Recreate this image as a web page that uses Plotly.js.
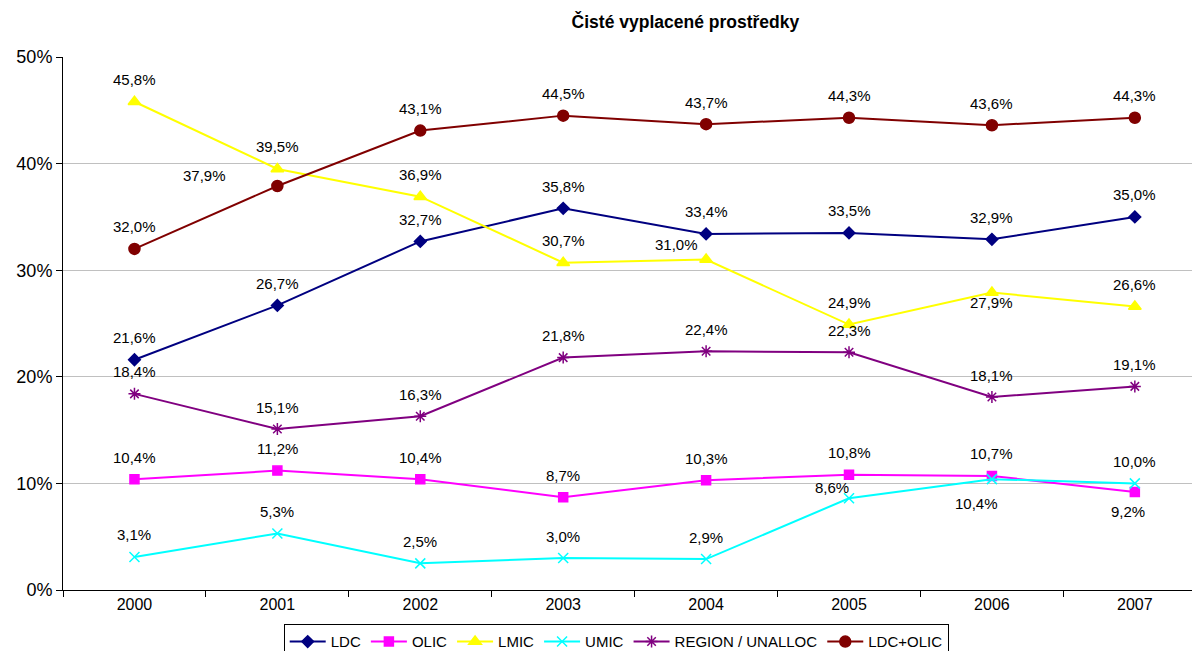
<!DOCTYPE html>
<html>
<head>
<meta charset="utf-8">
<script src="https://cdn.plot.ly/plotly-3.0.1.min.js"></script>
<style>html,body{margin:0;padding:0;background:#fff}#chart{width:1192px;height:651px}</style>
</head>
<body>
<div id="chart"></div>
<script>
var years = ["2000","2001","2002","2003","2004","2005","2006","2007"];
var ldc = [21.6, 26.7, 32.7, 35.8, 33.4, 33.5, 32.9, 35.0];
var olic = [10.4, 11.2, 10.4, 8.7, 10.3, 10.8, 10.7, 9.2];
var lmic = [45.8, 39.5, 36.9, 30.7, 31.0, 24.9, 27.9, 26.6];
var umic = [3.1, 5.3, 2.5, 3.0, 2.9, 8.6, 10.4, 10.0];
var region = [18.4, 15.1, 16.3, 21.8, 22.4, 22.3, 18.1, 19.1];
var ldcOlic = [32.0, 37.9, 43.1, 44.5, 43.7, 44.3, 43.6, 44.3];

var seriesNames = ["LDC", "OLIC", "LMIC", "UMIC", "REGION / UNALLOC", "LDC+OLIC"];

// styles and label offsets (pixels) – not data
var styles = [
  {color: "#000080", symbol: "diamond", size: 9},
  {color: "#FF00FF", symbol: "square", size: 9},
  {color: "#FFFF00", symbol: "triangle-up", size: 11},
  {color: "#00FFFF", symbol: "x-thin-open", size: 10},
  {color: "#800080", symbol: "asterisk-open", size: 10},
  {color: "#800000", symbol: "circle", size: 11}
];
var D = [0, -22];
var offsets = [
  [D, D, D, D, D, D, D, D],
  [D, D, D, D, D, D, D, [-7, 20]],
  [D, D, D, D, [-30, -15], D, [0, 10], D],
  [D, D, D, D, D, [-17, -11], [-15, 24], D],
  [D, D, D, D, D, D, D, D],
  [D, [-73, -10], D, D, D, D, D, D]
];
var allSeries = [ldc, olic, lmic, umic, region, ldcOlic];

var traces = [];
var annotations = [];
allSeries.forEach(function (vals, i) {
  var st = styles[i];
  traces.push({
    type: "scatter", mode: "lines+markers", name: seriesNames[i],
    x: years, y: vals,
    line: {color: st.color, width: 2},
    marker: {color: st.color, symbol: st.symbol, size: st.size,
             line: {color: st.color, width: 1.5}},
    cliponaxis: false
  });
  vals.forEach(function (v, j) {
    annotations.push({
      x: j, y: v, xref: "x", yref: "y",
      text: v.toFixed(1).replace(".", ",") + "%",
      showarrow: false, xshift: offsets[i][j][0], yshift: -offsets[i][j][1],
      font: {size: 15, color: "#000000"}
    });
  });
});

var layout = {
  width: 1192, height: 651,
  margin: {l: 63, r: 0, t: 57, b: 61},
  paper_bgcolor: "#fff", plot_bgcolor: "#fff",
  font: {family: "Liberation Sans, Arial, sans-serif", color: "#000"},
  title: {text: "<b>Čisté vyplacené prostředky</b>", font: {size: 17.5, color: "#000"},
          x: 0.575, xref: "container", xanchor: "center", y: 0.966, yref: "container", yanchor: "middle"},
  xaxis: {type: "category", range: [-0.5, 7.4], showgrid: false, showline: true, linecolor: "#000", linewidth: 1,
          ticks: "outside", tickson: "boundaries", ticklen: 6, tickcolor: "#000",
          tickfont: {size: 16}, zeroline: false},
  yaxis: {range: [0, 50], dtick: 10, ticksuffix: "%", showgrid: true, gridcolor: "#c0c0c0", gridwidth: 1,
          showline: true, linecolor: "#000", linewidth: 1, ticks: "outside", ticklen: 6, tickcolor: "#000",
          tickfont: {size: 18}, zeroline: false},
  showlegend: true,
  legend: {orientation: "h", x: 0.49, xanchor: "center", yref: "container", y: 0.041, yanchor: "top",
           bordercolor: "#000", borderwidth: 1, bgcolor: "#fff", font: {size: 15},
           itemwidth: 36, tracegroupgap: 0},
  annotations: annotations
};

Plotly.newPlot("chart", traces, layout, {displayModeBar: false});
</script>
</body>
</html>
